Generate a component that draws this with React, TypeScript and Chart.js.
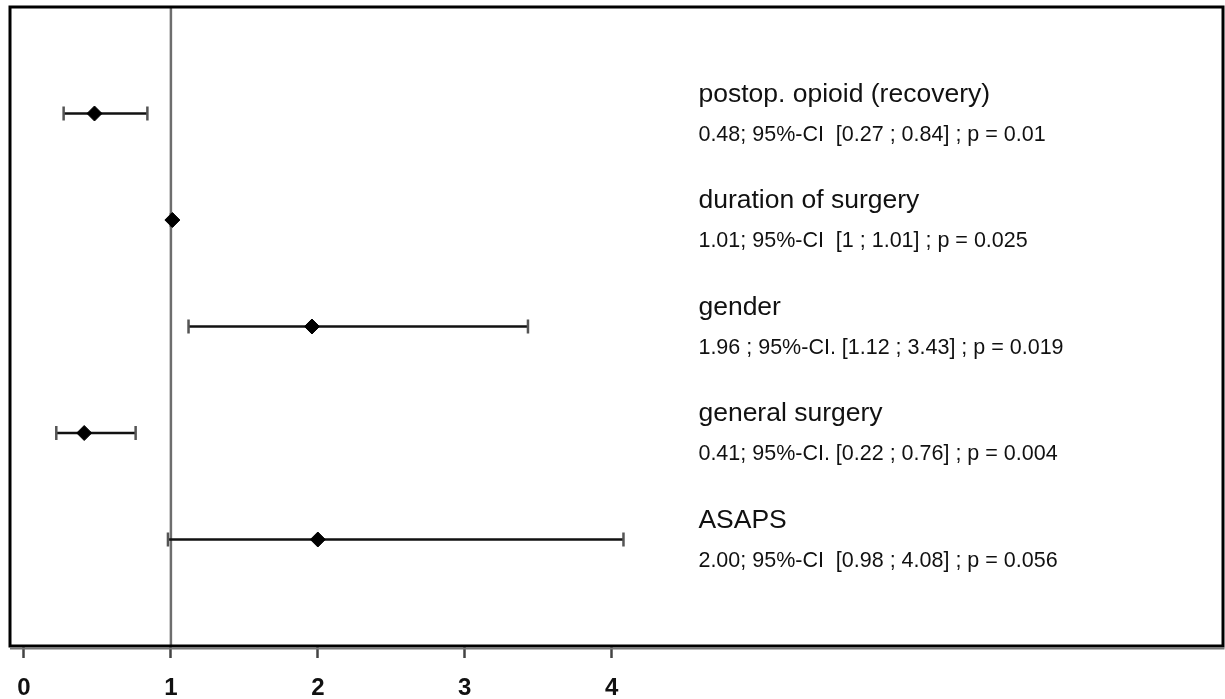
import React, { useEffect, useRef } from "react";
import { Chart, registerables } from "chart.js";

Chart.register(...registerables);

const categories = [
  "postop. opioid (recovery)",
  "duration of surgery",
  "gender",
  "general surgery",
  "ASAPS",
];
const rowPositions = [1, 2, 3, 4, 5];
const oddsRatios = [0.48, 1.01, 1.96, 0.41, 2.0];
const ciLower = [0.27, 1.0, 1.12, 0.22, 0.98];
const ciUpper = [0.84, 1.01, 3.43, 0.76, 4.08];
const statLabels = [
  "0.48; 95%-CI  [0.27 ; 0.84] ; p = 0.01",
  "1.01; 95%-CI  [1 ; 1.01] ; p = 0.025",
  "1.96 ; 95%-CI. [1.12 ; 3.43] ; p = 0.019",
  "0.41; 95%-CI. [0.22 ; 0.76] ; p = 0.004",
  "2.00; 95%-CI  [0.98 ; 4.08] ; p = 0.056",
];
const xTicks = [0, 1, 2, 3, 4];
const referenceValue = 1;
const labelAnchorValue = 4.59;

const forestPlugin = {
  id: "forest",
  beforeDatasetsDraw(chart: any) {
    const { ctx, chartArea, scales } = chart;
    const xs = scales.x;
    const ys = scales.y;
    ctx.save();
    const rx = xs.getPixelForValue(referenceValue);
    ctx.strokeStyle = "#6e6e6e";
    ctx.lineWidth = 2.5;
    ctx.beginPath();
    ctx.moveTo(rx, chartArea.top);
    ctx.lineTo(rx, chartArea.bottom);
    ctx.stroke();
    rowPositions.forEach((r, i) => {
      const y = ys.getPixelForValue(r);
      const x1 = xs.getPixelForValue(ciLower[i]);
      const x2 = xs.getPixelForValue(ciUpper[i]);
      ctx.strokeStyle = "#111";
      ctx.lineWidth = 2.5;
      ctx.beginPath();
      ctx.moveTo(x1, y);
      ctx.lineTo(x2, y);
      ctx.stroke();
      ctx.strokeStyle = "#555";
      ctx.lineWidth = 2.5;
      ctx.beginPath();
      ctx.moveTo(x1, y - 7);
      ctx.lineTo(x1, y + 7);
      ctx.moveTo(x2, y - 7);
      ctx.lineTo(x2, y + 7);
      ctx.stroke();
    });
    ctx.restore();
  },
  afterDraw(chart: any) {
    const { ctx, chartArea, scales } = chart;
    const xs = scales.x;
    const ys = scales.y;
    ctx.save();
    const lx = xs.getPixelForValue(labelAnchorValue);
    ctx.fillStyle = "#111";
    ctx.textAlign = "left";
    ctx.textBaseline = "alphabetic";
    rowPositions.forEach((r, i) => {
      const y = ys.getPixelForValue(r);
      ctx.font = "26.5px 'Liberation Sans', Arial, sans-serif";
      ctx.fillText(categories[i], lx, y - 12);
      ctx.font = "21.5px 'Liberation Sans', Arial, sans-serif";
      ctx.fillText(statLabels[i], lx, y + 27);
    });
    ctx.strokeStyle = "#000";
    ctx.lineWidth = 3;
    ctx.strokeRect(
      chartArea.left,
      chartArea.top,
      chartArea.right - chartArea.left,
      chartArea.bottom - chartArea.top
    );
    ctx.strokeStyle = "#777";
    ctx.lineWidth = 2;
    ctx.beginPath();
    ctx.moveTo(chartArea.left, chartArea.bottom + 2.5);
    ctx.lineTo(chartArea.right + 1.5, chartArea.bottom + 2.5);
    ctx.stroke();
    ctx.restore();
  },
};

export default function App() {
  const ref = useRef<HTMLCanvasElement | null>(null);
  useEffect(() => {
    document.body.style.margin = "0";
    const canvas = ref.current;
    if (!canvas) return;
    const chart = new Chart(canvas, {
      type: "scatter",
      data: {
        datasets: [
          {
            label: "Odds ratio",
            data: oddsRatios.map((v, i) => ({ x: v, y: rowPositions[i] })),
            pointStyle: "rectRot",
            pointRadius: 7.5,
            pointHoverRadius: 7.5,
            backgroundColor: "#000",
            borderColor: "#000",
            borderWidth: 1,
          },
        ],
      },
      options: {
        animation: false,
        responsive: false,
        events: [],
        layout: { autoPadding: false, padding: { top: 7, left: 10, right: 2, bottom: 0 } },
        plugins: {
          legend: { display: false },
          tooltip: { enabled: false },
        },
        scales: {
          x: {
            type: "linear",
            min: -0.095,
            max: 8.16,
            afterBuildTicks: (scale: any) => {
              scale.ticks = xTicks.map((v) => ({ value: v }));
            },
            afterFit: (scale: any) => {
              scale.height = 53;
            },
            border: { display: false },
            grid: {
              drawOnChartArea: false,
              drawTicks: true,
              tickLength: 12,
              tickColor: "#444",
              tickWidth: 2.5,
            },
            ticks: {
              padding: 16,
              maxRotation: 0,
              autoSkip: false,
              color: "#111",
              font: { family: "'Liberation Sans', Arial, sans-serif", size: 24, weight: "bold" },
              callback: (v: any) => String(v),
            },
          },
          y: {
            type: "linear",
            display: false,
            min: 0,
            max: 6,
            reverse: true,
          },
        },
      },
      plugins: [forestPlugin],
    });
    return () => chart.destroy();
  }, []);
  return (
    <div style={{ width: 1225, height: 699 }}>
      <canvas ref={ref} width={1225} height={699} style={{ display: "block" }} />
    </div>
  );
}
